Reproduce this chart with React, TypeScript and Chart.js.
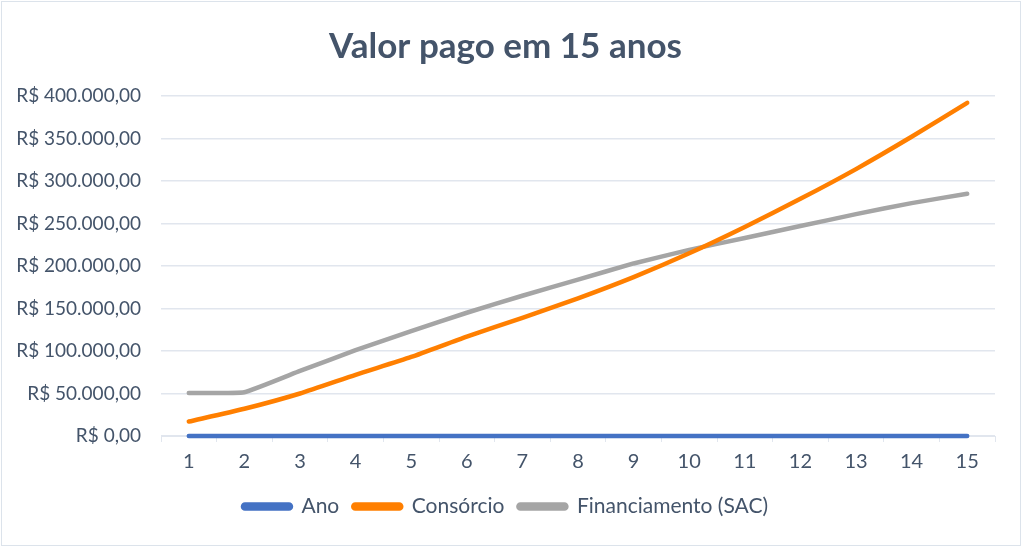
import React, { useEffect, useRef } from "react";
import { Chart, registerables } from "chart.js";

Chart.register(...registerables);

// Years of the plan
const anos = ["1", "2", "3", "4", "5", "6", "7", "8", "9", "10", "11", "12", "13", "14", "15"];

// "Ano" series holds the year number itself (practically zero on this scale)
const anoValores = [1, 2, 3, 4, 5, 6, 7, 8, 9, 10, 11, 12, 13, 14, 15];

// Accumulated amount paid via consórcio (R$)
const consorcio = [17000, 32000, 50000, 72000, 93000, 117000, 139000, 162000, 187000, 215000, 246000, 279000, 314000, 352000, 392000];

// Accumulated amount paid via financiamento SAC (R$)
const financiamento = [50500, 51500, 76500, 101000, 123500, 145000, 165000, 184000, 203000, 219000, 233000, 247000, 261000, 274000, 285000];

const titulo = "Valor pago em 15 anos";
const FONT = "Lato, 'Open Sans', sans-serif";
const TEXT = "#44546A";
const GRID = "#E1E6EE";

const brl = (v: number) =>
  "R$ " +
  v.toLocaleString("pt-BR", { minimumFractionDigits: 2, maximumFractionDigits: 2 });

export default function App() {
  const ref = useRef<HTMLCanvasElement>(null);

  useEffect(() => {
    if (!ref.current) return;
    const line = (label: string, data: number[], color: string, tension: number) => ({
      label,
      data,
      borderColor: color,
      backgroundColor: color,
      borderWidth: 4.5,
      borderCapStyle: "round" as const,
      borderJoinStyle: "round" as const,
      pointRadius: 0,
      tension,
      clip: 6,
      fill: false,
    });
    const chart = new Chart(ref.current, {
      type: "line",
      data: {
        labels: anos,
        datasets: [
          line("Ano", anoValores, "#4472C4", 0),
          line("Consórcio", consorcio, "#FF7F00", 0.2),
          line("Financiamento (SAC)", financiamento, "#A5A5A5", 0.12),
        ],
      },
      options: {
        animation: false,
        responsive: false,
        layout: { padding: { left: 16, right: 29, top: 8, bottom: 23 } },
        plugins: {
          title: {
            display: true,
            text: titulo,
            color: TEXT,
            font: { family: FONT, size: 35, weight: "bold" },
            padding: { top: 18, bottom: 28 },
          },
          legend: {
            position: "bottom",
            labels: {
              color: TEXT,
              font: { family: FONT, size: 21 },
              boxWidth: 48,
              boxHeight: 4,
              useBorderRadius: true,
              borderRadius: 2,
              padding: 14,
            },
          },
          tooltip: { enabled: false },
        },
        scales: {
          x: {
            offset: true,
            grid: {
              offset: true,
              drawOnChartArea: false,
              drawTicks: true,
              tickLength: 6,
              color: GRID,
            },
            border: { display: true, color: GRID },
            ticks: { color: TEXT, font: { family: FONT, size: 20 }, padding: 8 },
          },
          y: {
            min: 0,
            max: 400000,
            afterFit: (scale) => {
              scale.width = 145;
            },
            grid: { color: GRID, drawTicks: false, lineWidth: 1.5 },
            border: { display: false },
            ticks: {
              stepSize: 50000,
              color: TEXT,
              font: { family: FONT, size: 19 },
              padding: 20,
              callback: (v) => brl(Number(v)),
            },
          },
        },
      },
    });
    return () => chart.destroy();
  }, []);

  return (
    <div
      style={{
        position: "fixed",
        left: 0,
        top: 0,
        width: 1024,
        height: 550,
        background: "#fff",
      }}
    >
      <div
        style={{
          position: "absolute",
          left: 1,
          top: 1,
          width: 1020,
          height: 545,
          border: "1.5px solid #DCE3EB",
          boxSizing: "border-box",
          pointerEvents: "none",
        }}
      />
      <canvas ref={ref} width={1024} height={550} style={{ display: "block" }} />
    </div>
  );
}
